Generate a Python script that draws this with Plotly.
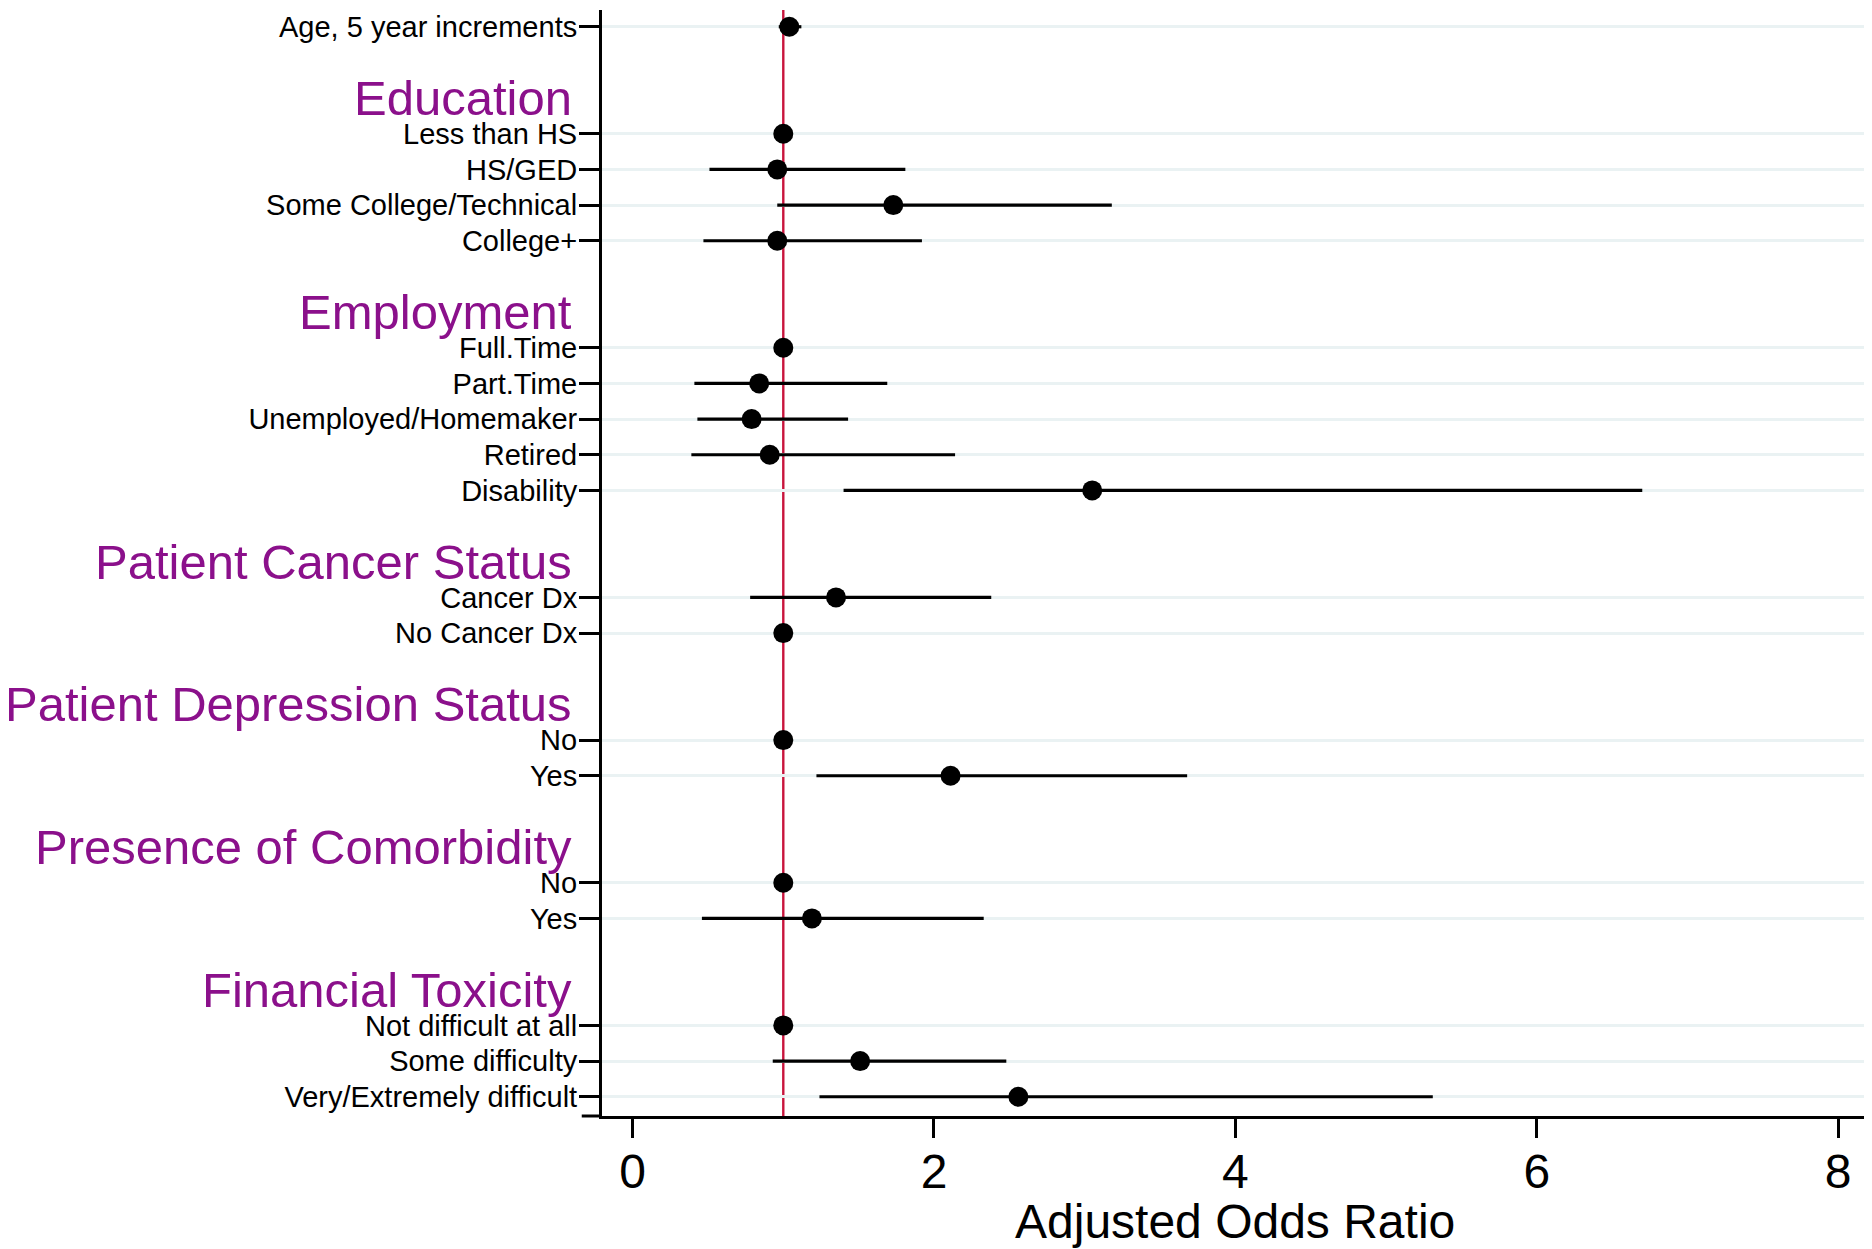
import plotly.graph_objects as go

# ---------------- data ----------------
top_label = "Age, 5 year increments"
top_or = 1.04
top_lo = 0.97
top_hi = 1.12

group_titles = ["Education", "Employment", "Patient Cancer Status",
                "Patient Depression Status", "Presence of Comorbidity",
                "Financial Toxicity"]
group_items = [
    ["Less than HS", "HS/GED", "Some College/Technical", "College+"],
    ["Full.Time", "Part.Time", "Unemployed/Homemaker", "Retired", "Disability"],
    ["Cancer Dx", "No Cancer Dx"],
    ["No", "Yes"],
    ["No", "Yes"],
    ["Not difficult at all", "Some difficulty", "Very/Extremely difficult"],
]
group_or = [
    [1.00, 0.96, 1.73, 0.96],
    [1.00, 0.84, 0.79, 0.91, 3.05],
    [1.35, 1.00],
    [1.00, 2.11],
    [1.00, 1.19],
    [1.00, 1.51, 2.56],
]
group_lo = [
    [1.00, 0.51, 0.96, 0.47],
    [1.00, 0.41, 0.43, 0.39, 1.40],
    [0.78, 1.00],
    [1.00, 1.22],
    [1.00, 0.46],
    [1.00, 0.93, 1.24],
]
group_hi = [
    [1.00, 1.81, 3.18, 1.92],
    [1.00, 1.69, 1.43, 2.14, 6.70],
    [2.38, 1.00],
    [1.00, 3.68],
    [1.00, 2.33],
    [1.00, 2.48, 5.31],
]
x_ticks = [0, 2, 4, 6, 8]
x_title = "Adjusted Odds Ratio"
ref_value = 1

# ---------------- build rows ----------------
rows, labels, ors, los, his = [], [], [], [], []
heading_rows = []
r = 0
rows.append(r); labels.append(top_label); ors.append(top_or); los.append(top_lo); his.append(top_hi)
for title, items, o, lo, hi in zip(group_titles, group_items, group_or, group_lo, group_hi):
    r += 2
    heading_rows.append(r)
    for it, oo, l, h in zip(items, o, lo, hi):
        r += 1
        rows.append(r); labels.append(it); ors.append(oo); los.append(l); his.append(h)

err_plus = [h - o for h, o in zip(his, ors)]
err_minus = [o - l for o, l in zip(ors, los)]

FONT = "Liberation Sans, Arial, sans-serif"
PURPLE = "#8B108B"

fig = go.Figure()
fig.add_trace(go.Scatter(
    x=ors, y=rows, mode="markers",
    marker=dict(color="black", size=20, symbol="circle"),
    error_x=dict(type="data", symmetric=False, array=err_plus, arrayminus=err_minus,
                 color="black", thickness=3.2, width=0),
    showlegend=False, hoverinfo="skip",
))

fig.add_shape(type="line", xref="x", yref="paper", x0=ref_value, x1=ref_value, y0=0, y1=1,
              line=dict(color="#C8143C", width=2.4), layer="below")

for t, hr in zip(group_titles, heading_rows):
    fig.add_annotation(text=t, xref="paper", yref="y", x=-0.0218, y=hr,
                       xanchor="right", yanchor="middle", showarrow=False,
                       font=dict(family=FONT, size=49, color=PURPLE))

fig.add_annotation(text=x_title, xref="paper", yref="paper", x=0.5, y=-0.0958,
                   xanchor="center", yanchor="middle", showarrow=False,
                   font=dict(family=FONT, size=48, color="black"))

# small extension of the x axis line to the left (tick region)
fig.add_shape(type="line", xref="paper", yref="paper", x0=-0.016, x1=0, y0=0, y1=0,
              line=dict(color="black", width=3))

# page body has an 8px default margin, so the figure is 8px smaller on each axis
fig.update_layout(
    width=1864, height=1241,
    margin=dict(l=594, r=4, t=2, b=133, autoexpand=False),
    paper_bgcolor="white", plot_bgcolor="white",
    font=dict(family=FONT, color="black"),
)
fig.update_xaxes(
    automargin=False,
    range=[-0.203, 8.198], tickvals=x_ticks, ticks="outside", ticklen=19, tickwidth=3,
    tickcolor="black", showline=True, linewidth=3, linecolor="black",
    showgrid=False, zeroline=False, tickfont=dict(family=FONT, size=48, color="black"),
    ticklabelstandoff=-8,
)
fig.update_yaxes(
    automargin=False,
    range=[30.54, -0.47], tickvals=rows, ticktext=labels, ticks="outside", ticklen=20,
    tickwidth=3, tickcolor="black", showline=True, linewidth=3, linecolor="black",
    showgrid=True, gridcolor="#EAF2F3", gridwidth=3, zeroline=False,
    tickfont=dict(family=FONT, size=29, color="black"),
    ticklabelstandoff=-4,
)

fig.write_html("out.html")
